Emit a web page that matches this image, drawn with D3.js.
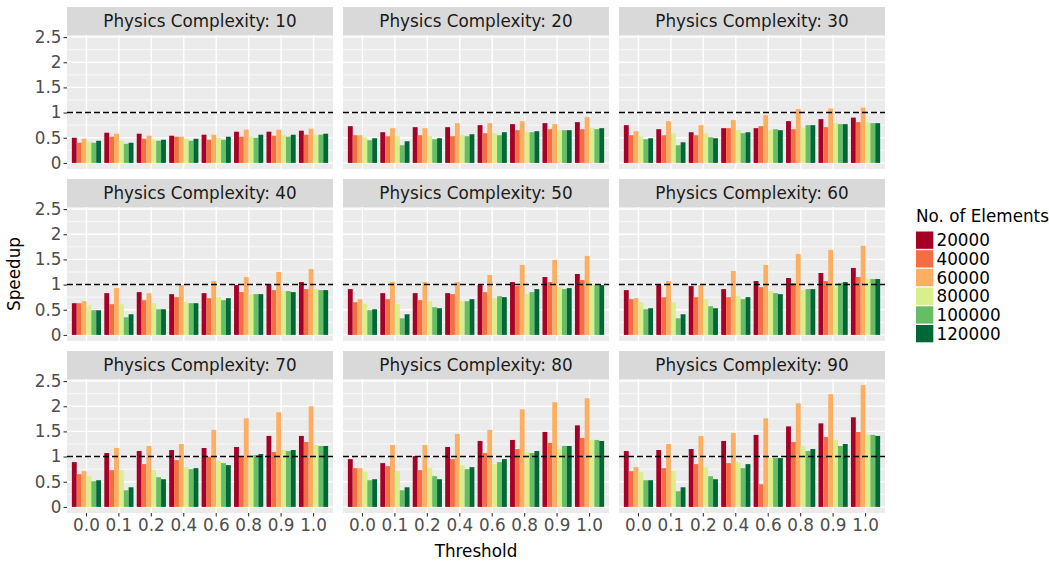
<!DOCTYPE html>
<html>
<head>
<meta charset="utf-8">
<script src="https://cdn.jsdelivr.net/npm/d3@7"></script>
<style>
  html, body { margin: 0; padding: 0; background: #ffffff; }
  svg { display: block; font-family: "DejaVu Sans", sans-serif; }
</style>
</head>
<body>
<svg id="chart" width="1049" height="563"></svg>
<script>
// Speedup per threshold, grouped by number of elements, one facet per physics complexity
const thresholds = ["0.0", "0.1", "0.2", "0.4", "0.6", "0.8", "0.9", "1.0"];
const elements = ["20000", "40000", "60000", "80000", "100000", "120000"];
const complexities = [10, 20, 30, 40, 50, 60, 70, 80, 90];
const yTicks = [0, 0.5, 1, 1.5, 2, 2.5];
const yTickLabels = ["0", "0.5", "1", "1.5", "2", "2.5"];
const colors = ["#a50026", "#f46d43", "#fdae61", "#d9ef8b", "#66bd63", "#006837"];

// rows: thresholds; columns: elements 20000 .. 120000
const speedup10 = [
  [0.50, 0.40, 0.48, 0.42, 0.40, 0.44],
  [0.60, 0.52, 0.58, 0.44, 0.38, 0.40],
  [0.58, 0.48, 0.54, 0.46, 0.44, 0.46],
  [0.54, 0.52, 0.52, 0.48, 0.44, 0.48],
  [0.56, 0.46, 0.56, 0.50, 0.46, 0.52],
  [0.62, 0.52, 0.66, 0.52, 0.50, 0.56],
  [0.62, 0.54, 0.66, 0.56, 0.52, 0.56],
  [0.64, 0.56, 0.68, 0.56, 0.56, 0.58]
];
const speedup20 = [
  [0.73, 0.55, 0.55, 0.51, 0.45, 0.49],
  [0.61, 0.53, 0.69, 0.53, 0.35, 0.43],
  [0.71, 0.55, 0.69, 0.53, 0.47, 0.49],
  [0.71, 0.53, 0.79, 0.55, 0.53, 0.57],
  [0.75, 0.59, 0.79, 0.59, 0.55, 0.61],
  [0.77, 0.65, 0.83, 0.61, 0.61, 0.63],
  [0.79, 0.67, 0.77, 0.65, 0.65, 0.65],
  [0.81, 0.67, 0.91, 0.69, 0.67, 0.69]
];
const speedup30 = [
  [0.75, 0.55, 0.63, 0.53, 0.47, 0.49],
  [0.67, 0.55, 0.83, 0.59, 0.35, 0.41],
  [0.61, 0.55, 0.75, 0.59, 0.51, 0.49],
  [0.69, 0.69, 0.85, 0.65, 0.59, 0.61],
  [0.69, 0.73, 0.95, 0.65, 0.67, 0.65],
  [0.83, 0.67, 1.07, 0.69, 0.75, 0.75],
  [0.87, 0.71, 1.08, 0.79, 0.77, 0.77],
  [0.90, 0.81, 1.10, 0.81, 0.79, 0.79]
];
const speedup40 = [
  [0.63, 0.63, 0.67, 0.59, 0.49, 0.49],
  [0.83, 0.61, 0.93, 0.61, 0.35, 0.41],
  [0.85, 0.69, 0.83, 0.63, 0.51, 0.51],
  [0.81, 0.75, 0.99, 0.65, 0.63, 0.63],
  [0.83, 0.73, 1.07, 0.75, 0.69, 0.73],
  [0.99, 0.85, 1.15, 0.81, 0.81, 0.81],
  [1.01, 0.89, 1.25, 0.87, 0.87, 0.85],
  [1.05, 0.91, 1.31, 0.91, 0.89, 0.89]
];
const speedup50 = [
  [0.91, 0.65, 0.71, 0.61, 0.49, 0.51],
  [0.83, 0.71, 1.05, 0.61, 0.33, 0.41],
  [0.83, 0.69, 1.05, 0.67, 0.55, 0.53],
  [0.83, 0.81, 1.05, 0.67, 0.67, 0.71],
  [0.99, 0.85, 1.19, 0.73, 0.77, 0.75],
  [1.05, 0.97, 1.39, 0.81, 0.85, 0.91],
  [1.15, 1.05, 1.49, 0.95, 0.91, 0.93],
  [1.21, 1.09, 1.57, 1.01, 0.99, 0.99]
];
const speedup60 = [
  [0.89, 0.71, 0.73, 0.65, 0.51, 0.53],
  [0.99, 0.75, 1.07, 0.65, 0.33, 0.41],
  [0.97, 0.75, 0.99, 0.71, 0.57, 0.53],
  [0.91, 0.75, 1.27, 0.77, 0.71, 0.75],
  [1.07, 0.95, 1.39, 0.87, 0.83, 0.81],
  [1.13, 1.03, 1.61, 0.89, 0.91, 0.91],
  [1.23, 1.07, 1.69, 1.01, 1.03, 1.05],
  [1.33, 1.15, 1.77, 1.11, 1.11, 1.11]
];
const speedup70 = [
  [0.89, 0.65, 0.71, 0.61, 0.51, 0.53],
  [1.07, 0.73, 1.17, 0.73, 0.33, 0.39],
  [1.11, 0.85, 1.21, 0.73, 0.59, 0.55],
  [1.13, 0.93, 1.25, 0.79, 0.75, 0.77],
  [1.17, 1.00, 1.53, 0.91, 0.87, 0.83],
  [1.19, 1.00, 1.76, 1.03, 1.03, 1.05],
  [1.41, 1.09, 1.88, 1.13, 1.11, 1.13],
  [1.41, 1.29, 2.00, 1.23, 1.21, 1.21]
];
const speedup80 = [
  [0.95, 0.77, 0.77, 0.69, 0.53, 0.55],
  [0.87, 0.81, 1.23, 0.71, 0.33, 0.39],
  [1.01, 0.73, 1.23, 0.77, 0.61, 0.55],
  [1.19, 0.95, 1.45, 0.83, 0.75, 0.79],
  [1.31, 1.07, 1.53, 0.85, 0.89, 0.95],
  [1.33, 1.15, 1.94, 1.09, 1.07, 1.11],
  [1.49, 1.27, 2.08, 1.15, 1.21, 1.21],
  [1.62, 1.37, 2.16, 1.33, 1.33, 1.31]
];
const speedup90 = [
  [1.11, 0.71, 0.79, 0.69, 0.53, 0.53],
  [1.13, 0.77, 1.25, 0.71, 0.31, 0.39],
  [1.15, 0.85, 1.41, 0.79, 0.61, 0.55],
  [1.31, 0.87, 1.47, 0.89, 0.77, 0.85],
  [1.43, 0.45, 1.76, 0.97, 0.97, 0.97],
  [1.60, 1.29, 2.06, 1.21, 1.11, 1.15],
  [1.66, 1.39, 2.24, 1.33, 1.21, 1.25],
  [1.78, 1.49, 2.42, 1.43, 1.43, 1.41]
];
const panels = [speedup10, speedup20, speedup30, speedup40, speedup50,
                speedup60, speedup70, speedup80, speedup90];

// ---- layout ----
const svg = d3.select("#chart");
const FS = 16.8;
const panelW = 266, panelH = 134, stripH = 28;
const colX = [67, 343, 619];
const rowTop = [7, 179, 351];

// shared y scale: 0..max with 5% expansion on both ends
const maxVal = d3.max(panels, p => d3.max(p, r => d3.max(r)));
const pad = maxVal * 0.05;
const y = d3.scaleLinear().domain([-pad, maxVal + pad]).range([panelH, 0]);

const x = d3.scaleBand().domain(thresholds).range([0, panelW])
  .paddingInner(0.1).paddingOuter(0.15);
const xs = d3.scaleBand().domain(elements).range([0, x.bandwidth()]).padding(0);
const color = d3.scaleOrdinal().domain(elements).range(colors);

const minorTicks = d3.range(0.25, maxVal + pad, 0.5);

panels.forEach((data, k) => {
  const r = Math.floor(k / 3), c = k % 3;
  const g = svg.append("g").attr("transform", `translate(${colX[c]},${rowTop[r]})`);

  // strip
  g.append("rect").attr("width", panelW).attr("height", stripH).attr("fill", "#d9d9d9");
  g.append("text").attr("x", panelW / 2).attr("y", stripH / 2 + 6)
    .attr("text-anchor", "middle").attr("font-size", FS).attr("fill", "#1a1a1a")
    .text(`Physics Complexity: ${complexities[k]}`);

  const p = g.append("g").attr("transform", `translate(0,${stripH})`);
  p.append("rect").attr("width", panelW).attr("height", panelH).attr("fill", "#ebebeb");

  // grid
  p.selectAll("line.minor").data(minorTicks).join("line")
    .attr("x1", 0).attr("x2", panelW)
    .attr("y1", d => y(d)).attr("y2", d => y(d))
    .attr("stroke", "#ffffff").attr("stroke-width", 0.7);
  p.selectAll("line.majorY").data(yTicks).join("line")
    .attr("x1", 0).attr("x2", panelW)
    .attr("y1", d => y(d)).attr("y2", d => y(d))
    .attr("stroke", "#ffffff").attr("stroke-width", 1.4);
  p.selectAll("line.majorX").data(thresholds).join("line")
    .attr("x1", d => x(d) + x.bandwidth() / 2).attr("x2", d => x(d) + x.bandwidth() / 2)
    .attr("y1", 0).attr("y2", panelH)
    .attr("stroke", "#ffffff").attr("stroke-width", 1.4);

  // bars
  const groups = p.selectAll("g.grp").data(thresholds).join("g")
    .attr("transform", d => `translate(${x(d)},0)`);
  groups.selectAll("rect").data((d, i) => data[i].map((v, j) => ({ key: elements[j], v })))
    .join("rect")
    .attr("x", d => xs(d.key))
    .attr("width", xs.bandwidth())
    .attr("y", d => y(d.v))
    .attr("height", d => y(0) - y(d.v))
    .attr("fill", d => color(d.key));

  // reference line at speedup = 1
  p.append("line").attr("x1", 0).attr("x2", panelW)
    .attr("y1", y(1)).attr("y2", y(1))
    .attr("stroke", "#000000").attr("stroke-width", 1.6)
    .attr("stroke-dasharray", "6,3");

  // y axis on the first column
  if (c === 0) {
    const ya = d3.axisLeft(y).tickValues(yTicks).tickFormat((d, i) => yTickLabels[i])
      .tickSize(3.5).tickPadding(2);
    const ag = p.append("g").call(ya);
    ag.select(".domain").remove();
    ag.selectAll(".tick line").attr("stroke", "#333333").attr("stroke-width", 1.1);
    ag.selectAll(".tick text").attr("font-size", FS).attr("fill", "#4d4d4d")
      .attr("font-family", "DejaVu Sans, sans-serif");
  }
  // x axis on the bottom row
  if (r === 2) {
    const xa = d3.axisBottom(x).tickSize(3.5).tickPadding(3);
    const ag = p.append("g").attr("transform", `translate(0,${panelH})`).call(xa);
    ag.select(".domain").remove();
    ag.selectAll(".tick line").attr("stroke", "#333333").attr("stroke-width", 1.1);
    ag.selectAll(".tick text").attr("font-size", FS).attr("fill", "#4d4d4d")
      .attr("font-family", "DejaVu Sans, sans-serif");
  }
});

// axis titles
svg.append("text").attr("x", 476).attr("y", 557).attr("text-anchor", "middle")
  .attr("font-size", FS).attr("fill", "#000").text("Threshold");
svg.append("text").attr("transform", "translate(20,274) rotate(-90)")
  .attr("text-anchor", "middle").attr("font-size", FS).attr("fill", "#000").text("Speedup");

// legend
const lg = svg.append("g").attr("transform", "translate(916,0)");
lg.append("text").attr("x", 0).attr("y", 222).attr("font-size", FS).attr("fill", "#000")
  .text("No. of Elements");
const items = lg.selectAll("g.item").data(elements).join("g")
  .attr("transform", (d, i) => `translate(0,${231.5 + i * 18.7})`);
items.append("rect").attr("width", 17.3).attr("height", 17.3).attr("fill", d => color(d));
items.append("text").attr("x", 20.5).attr("y", 14.8).attr("font-size", FS).attr("fill", "#000")
  .text(d => d);
</script>
</body>
</html>
